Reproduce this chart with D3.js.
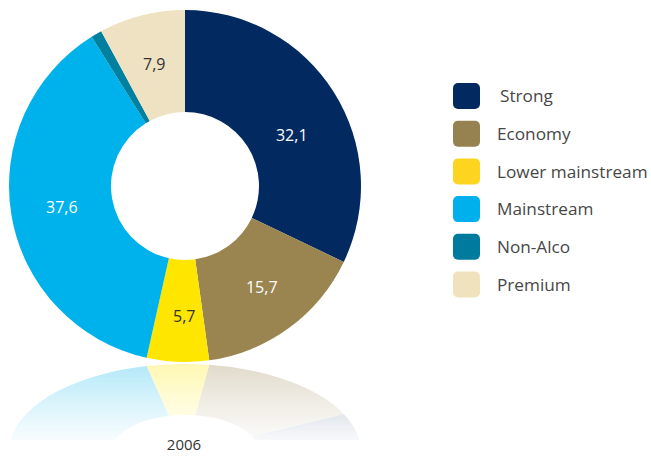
<!DOCTYPE html>
<html>
<head>
<meta charset="utf-8">
<script src="https://cdn.jsdelivr.net/npm/d3@7"></script>
<style>
  html, body { margin: 0; padding: 0; background: #ffffff; }
  svg { display: block; }
</style>
</head>
<body>
<svg id="chart" width="651" height="456"></svg>
<script>
// ---- data ----
const categories = ["Strong", "Economy", "Lower mainstream", "Mainstream", "Non-Alco", "Premium"];
const values = [32.1, 15.7, 5.7, 37.6, 1.0, 7.9];
const valueLabels = ["32,1", "15,7", "5,7", "37,6", "", "7,9"];
const colors = ["#032a60", "#9a8450", "#ffe600", "#00b2eb", "#00809f", "#efe2c2"];
const legendColors = ["#032a60", "#958250", "#fdd41f", "#00b0ed", "#007b9e", "#f0e2bc"];
const labelColors = ["#ffffff", "#ffffff", "#333333", "#ffffff", "#ffffff", "#333333"];
const yearLabel = "2006";

// ---- layout ----
const svg = d3.select("#chart");
const cx = 185, cy = 186, R = 176, r0 = 74;
const data = categories.map((c, i) => ({ name: c, value: values[i], label: valueLabels[i], i }));

const pie = d3.pie().sort(null).value(d => d.value);
const arcs = pie(data);
const arc = d3.arc().innerRadius(r0).outerRadius(R);
const color = d3.scaleOrdinal().domain(categories).range(colors);

// label placement tweaks (layout only): angle shift in degrees, radius shift in px
const labelTweak = { "Strong": [7, -7], "Economy": [-1, 2], "Lower mainstream": [-2, 5] };
function labelPos(d) {
  const t = labelTweak[d.data.name] || [0, 0];
  const a = (d.startAngle + d.endAngle) / 2 + t[0] * Math.PI / 180;
  const rr = (r0 + R) / 2 + t[1];
  return [rr * Math.sin(a), -rr * Math.cos(a)];
}

// ---- reflection ----
const defs = svg.append("defs");
const grad = defs.append("linearGradient").attr("id", "fade")
  .attr("x1", 0).attr("y1", 0).attr("x2", 0).attr("y2", 1)
  .attr("gradientUnits", "objectBoundingBox");
grad.append("stop").attr("offset", 0).attr("stop-color", "#fff").attr("stop-opacity", 0.3);
grad.append("stop").attr("offset", 0.5).attr("stop-color", "#fff").attr("stop-opacity", 0.15);
grad.append("stop").attr("offset", 1).attr("stop-color", "#fff").attr("stop-opacity", 0.03);
const mask = defs.append("mask").attr("id", "reflMask")
  .attr("maskUnits", "userSpaceOnUse").attr("x", 0).attr("y", 0).attr("width", 651).attr("height", 456);
const mirrorY = cy + R + 2;
const reflBottom = 440;
mask.append("rect").attr("x", 0).attr("y", mirrorY).attr("width", 400).attr("height", reflBottom - mirrorY)
  .attr("fill", "url(#fade)");

const squash = 0.5;
const refl = svg.append("g").attr("mask", "url(#reflMask)")
  .append("g")
  .attr("transform", `translate(${cx},${mirrorY + R * squash}) scale(1,${-squash})`);
refl.selectAll("path").data(arcs).enter().append("path")
  .attr("d", arc)
  .attr("fill", d => color(d.data.name));

// ---- donut ----
const g = svg.append("g").attr("transform", `translate(${cx},${cy})`);
g.selectAll("path.slice").data(arcs).enter().append("path")
  .attr("class", "slice")
  .attr("d", arc)
  .attr("fill", d => color(d.data.name));

g.selectAll("text.val").data(arcs.filter(d => d.data.label)).enter().append("text")
  .attr("class", "val")
  .attr("transform", d => `translate(${labelPos(d)})`)
  .attr("text-anchor", "middle")
  .attr("dy", "0.35em")
  .attr("font-family", "'Open Sans', 'Noto Sans', sans-serif")
  .attr("font-size", 16)
  .attr("fill", d => labelColors[d.data.i])
  .text(d => d.data.label);

// ---- year label ----
svg.append("text")
  .attr("x", 184).attr("y", 450)
  .attr("text-anchor", "middle")
  .attr("font-family", "'Open Sans', 'Noto Sans', sans-serif")
  .attr("font-size", 15)
  .attr("fill", "#333")
  .text(yearLabel);

// ---- legend ----
const legendY = d3.scalePoint().domain(categories).range([96, 284.5]);
const legend = svg.append("g");
const items = legend.selectAll("g").data(categories).enter().append("g")
  .attr("transform", d => `translate(453,${legendY(d)})`);
items.append("rect")
  .attr("x", 0).attr("y", -13).attr("width", 27).attr("height", 26)
  .attr("rx", 5).attr("ry", 5)
  .attr("fill", (d, i) => legendColors[i]);
items.append("text")
  .attr("x", (d, i) => i === 0 ? 47 : 44)
  .attr("y", 0)
  .attr("dy", "0.36em")
  .attr("font-family", "'Open Sans', 'Noto Sans', sans-serif")
  .attr("font-size", 17.2)
  .attr("fill", "#474747")
  .text(d => d);
</script>
</body>
</html>
